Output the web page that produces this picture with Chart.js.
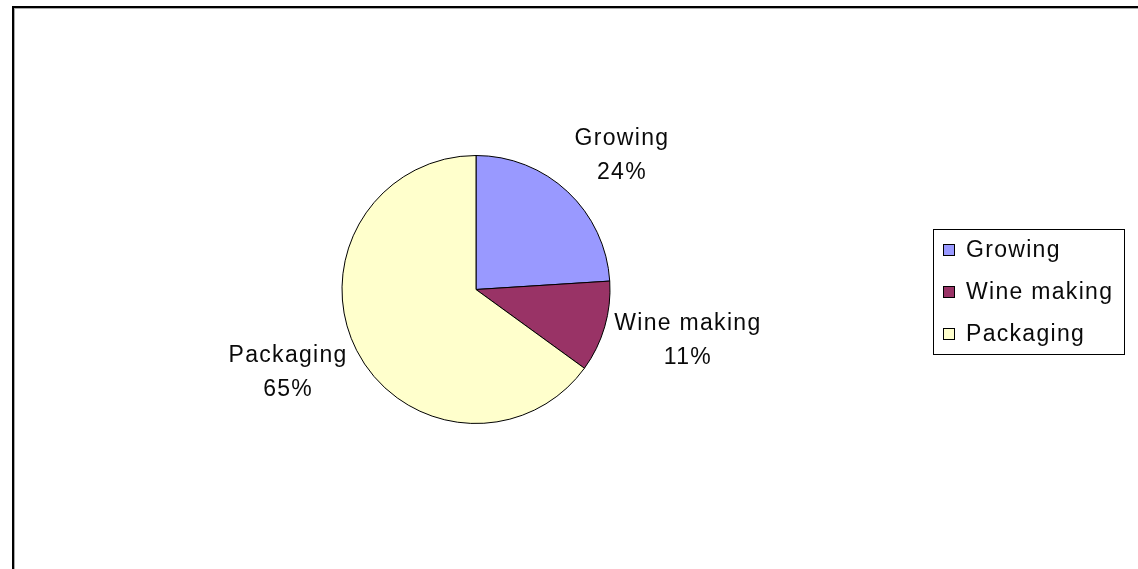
<!DOCTYPE html>
<html>
<head>
<meta charset="utf-8">
<title>Cost breakdown</title>
<script src="https://cdn.jsdelivr.net/npm/chart.js@4/dist/chart.umd.min.js"></script>
<style>
    html, body { margin: 0; padding: 0; background: #fff; }
    #wrap { width: 1138px; height: 569px; }
</style>
</head>
<body>
<div id="wrap"><canvas id="chart-cost"></canvas></div>
<script>
const categories = ['Growing', 'Wine making', 'Packaging'];
const shares = [24, 11, 65];
const sliceColors = ['#9999ff', '#993366', '#ffffcc'];

const ink = '#0a0a0a';
const labelFont = "23px 'Liberation Sans', Arial, sans-serif";
const tracking = 1.3;

function withSpacing(ctx, px) {
    if ('letterSpacing' in ctx) {
        ctx.letterSpacing = px + 'px';
    }
}

// sheet frame: heavy rule on top and left with a grey shadow line
const framePlugin = {
    id: 'frame',
    beforeDraw(chart) {
        const ctx = chart.ctx;
        ctx.save();
        ctx.fillStyle = '#fff';
        ctx.fillRect(0, 0, chart.width, chart.height);
        ctx.fillStyle = '#000';
        ctx.fillRect(12, 6, chart.width - 12, 2);
        ctx.fillRect(12, 6, 2, chart.height - 6);
        ctx.fillStyle = '#aaa';
        ctx.fillRect(14, 8, chart.width - 14, 1);
        ctx.fillRect(14, 8, 1, chart.height - 8);
        ctx.restore();
    },
};

// category + percent outside each slice
const sliceLabels = {
    id: 'sliceLabels',
    afterDatasetsDraw(chart) {
        const ctx = chart.ctx;
        const meta = chart.getDatasetMeta(0);
        const total = shares.reduce((a, b) => a + b, 0);
        const lineH = 34;
        ctx.save();
        ctx.font = labelFont;
        withSpacing(ctx, tracking);
        ctx.fillStyle = ink;
        ctx.textAlign = 'center';
        ctx.textBaseline = 'middle';
        meta.data.forEach((arc, i) => {
            const mid = (arc.startAngle + arc.endAngle) / 2;
            const cos = Math.cos(mid);
            const sin = Math.sin(mid);
            const r = arc.outerRadius + 10;
            const ax = arc.x + r * cos;
            const ay = arc.y + r * sin;
            const pct = Math.round((shares[i] / total) * 100) + '%';
            const w = Math.max(ctx.measureText(categories[i]).width, ctx.measureText(pct).width);
            const cx = ax + (w / 2) * Math.sign(cos);
            const cy = ay + 30 * Math.max(-1, Math.min(1, sin * 1.3));
            ctx.fillText(categories[i], cx, cy - lineH / 2);
            ctx.fillText(pct, cx, cy + lineH / 2);
        });
        ctx.restore();
    },
};

// boxed legend on the right
const boxLegend = {
    id: 'boxLegend',
    afterDraw(chart) {
        const ctx = chart.ctx;
        const box = { x: 933, y: 229, w: 191, h: 125 };
        const rowGap = 42;
        ctx.save();
        ctx.strokeStyle = '#000';
        ctx.lineWidth = 1;
        ctx.strokeRect(box.x + 0.5, box.y + 0.5, box.w, box.h);
        ctx.font = labelFont;
        withSpacing(ctx, tracking);
        ctx.textAlign = 'left';
        ctx.textBaseline = 'middle';
        categories.forEach((name, i) => {
            const y = box.y + 21 + i * rowGap;
            ctx.fillStyle = sliceColors[i];
            ctx.fillRect(box.x + 10, y - 6, 12, 12);
            ctx.strokeStyle = '#000';
            ctx.strokeRect(box.x + 10.5, y - 5.5, 11, 11);
            ctx.fillStyle = ink;
            ctx.fillText(name, box.x + 33, y + 1);
        });
        ctx.restore();
    },
};

new Chart(document.getElementById('chart-cost'), {
    type: 'pie',
    data: {
        labels: categories,
        datasets: [
            {
                data: shares,
                backgroundColor: sliceColors,
                borderColor: '#000',
                borderWidth: 1,
                hoverOffset: 0,
            },
        ],
    },
    options: {
        responsive: true,
        maintainAspectRatio: false,
        animation: false,
        events: [],
        layout: { padding: { top: 155, bottom: 145, left: 0, right: 186 } },
        plugins: {
            legend: { display: false },
            tooltip: { enabled: false },
        },
    },
    plugins: [framePlugin, sliceLabels, boxLegend],
});
</script>
</body>
</html>
